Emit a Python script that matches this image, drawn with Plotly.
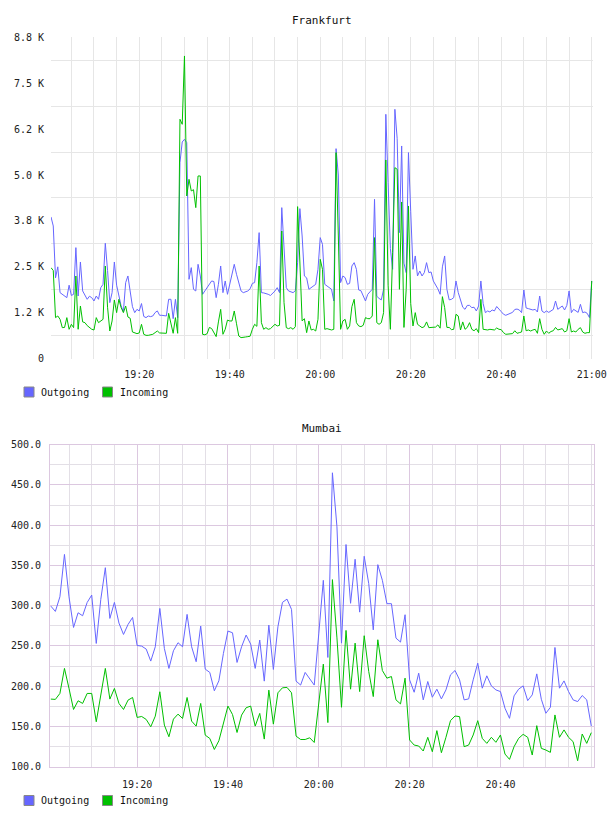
import pandas as pd
import plotly.graph_objects as go

W, H = 608, 816

# ---------------- data ----------------
fra_out = [
    3858, 3613, 2200, 2500, 1797, 1752, 1725, 1661, 2000, 1720,
    1752, 3023, 1706, 2632, 1843, 1725, 1616, 1700, 1661, 1570,
    1706, 1616, 1933, 2024, 3141, 2400, 1525, 1797, 2632, 2000,
    1661, 1434, 1280, 2070, 2251, 1752, 1416, 1253, 1343, 1298,
    1500, 1150, 1117, 1162, 1144, 1162, 1253, 1300, 1180, 1180,
    1180, 1162, 1616, 1616, 1089, 1616, 1117, 5337, 5900, 5973,
    5882, 2160, 2478, 1888, 1843, 2569, 2251, 1752, 1843, 1933,
    2024, 2115, 2100, 1661, 2024, 2523, 1797, 2115, 1752, 2024,
    2387, 2569, 2297, 2070, 1843, 1797, 1815, 1843, 1900, 2050,
    2070, 2614, 3431, 1797, 1790, 1780, 1752, 1720, 1780, 1843,
    1933, 1797, 4112, 3000, 1933, 1843, 1820, 1797, 1850, 2614,
    4085, 3340, 2251, 2200, 1888, 1933, 1980, 2024, 2433, 3295,
    3113, 2024, 1979, 1933, 1888, 1570, 5718, 5000, 2070, 2251,
    2206, 2024, 2050, 2523, 2614, 2433, 1870, 1850, 1700, 1570,
    1752, 1820, 1888, 4339, 1700, 1640, 1600, 1888, 6653, 4793,
    3000, 2433, 6789, 6000, 3431, 5791, 2600, 2342, 5610, 4000,
    2433, 2796, 2251, 2387, 2251, 2342, 2614, 2342, 2360, 2115,
    2024, 1900, 1752, 2500, 2796, 1888, 1600, 1616, 1661, 2115,
    1800, 1616, 1400, 1343, 1450, 1450, 1389, 1400, 1298, 1434,
    2115, 1500, 1253, 1298, 1271, 1325, 1300, 1420, 1360, 1280,
    1210, 1180, 1207, 1234, 1260, 1340, 1350, 1325, 1253, 1870,
    1380, 1362, 1343, 1325, 1343, 1270, 1706, 1298, 1253, 1298,
    1260, 1310, 1340, 1570, 1343, 1389, 1434, 1325, 1450, 1843,
    1253, 1343, 1300, 1260, 1480, 1253, 1271, 1234, 1117, 2115,
]
fra_in = [
    2478, 2400, 1117, 1162, 1071, 844, 850, 1117, 799, 935,
    844, 2251, 800, 1434, 1000, 980, 900, 850, 800, 780,
    1117, 980, 1026, 1071, 2523, 1400, 753, 1026, 1598, 1253,
    1616, 1389, 1253, 1434, 1135, 1100, 726, 708, 681, 700,
    935, 663, 635, 635, 640, 663, 708, 753, 700, 690,
    690, 690, 1234, 980, 690, 1117, 690, 6517, 6381, 8242,
    4430, 4883, 4566, 4600, 4112, 4974, 4974, 663, 650, 680,
    850, 820, 700, 600, 1000, 1343, 663, 800, 1050, 1026,
    1026, 1298, 950, 617, 572, 590, 590, 600, 610, 800,
    935, 880, 2523, 980, 800, 844, 799, 817, 890, 935,
    890, 908, 3476, 1525, 844, 817, 844, 799, 871, 4139,
    2632, 1026, 1089, 708, 1026, 780, 799, 753, 1071, 2705,
    2433, 799, 817, 799, 781, 799, 5610, 3340, 799, 1026,
    1071, 799, 890, 1416, 1616, 980, 890, 871, 908, 1117,
    1089, 1089, 1162, 3295, 980, 935, 980, 1253, 5410, 2000,
    799, 2886, 5201, 5156, 1888, 4266, 850, 1888, 4157, 1500,
    890, 1253, 935, 890, 844, 871, 1000, 844, 844, 860,
    860, 920, 830, 1688, 1389, 850, 850, 790, 799, 1207,
    1162, 780, 1000, 799, 850, 980, 799, 760, 817, 708,
    1616, 799, 781, 781, 799, 799, 781, 835, 799, 790,
    708, 663, 663, 663, 681, 760, 690, 708, 726, 1162,
    760, 781, 753, 781, 799, 690, 1089, 799, 663, 753,
    690, 740, 760, 850, 781, 799, 817, 726, 760, 1089,
    726, 753, 726, 799, 844, 726, 690, 708, 708, 2115,
]
mum_out = [
    299.5, 292.9, 311.1, 363.7, 311.0, 273.0, 291.2, 287.5, 304.0, 313.2,
    253.1, 307.8, 347.2, 284.2, 304.1, 278.4, 264.3, 276.7, 285.4, 250.6,
    249.8, 246.1, 231.2, 249.0, 296.6, 246.9, 222.1, 244.0, 254.0, 249.0,
    289.2, 249.0, 230.4, 274.7, 221.2, 217.1, 194.3, 206.7, 240.7, 268.5,
    266.4, 229.5, 249.0, 263.5, 252.3, 222.1, 257.3, 206.3, 275.9, 220.8,
    273.8, 304.1, 308.2, 295.4, 206.3, 201.4, 217.1, 209.7, 201.4, 265.0,
    331.5, 235.7, 465.1, 398.0, 253.5, 376.0, 303.0, 357.7, 292.0, 361.4,
    327.4, 270.0, 351.0, 331.5, 302.5, 302.5, 259.7, 254.8, 288.8, 207.9,
    192.5, 216.2, 183.0, 205.8, 186.3, 196.3, 184.2, 195.4, 214.1, 219.5,
    207.9, 183.0, 184.2, 207.9, 228.6, 197.5, 212.9, 200.4, 195.4, 193.3,
    172.6, 160.1, 188.0, 196.3, 200.4, 182.1, 189.2, 215.3, 183.8, 166.4,
    173.8, 248.1, 197.5, 206.6, 193.3, 183.0, 180.9, 188.4, 183.0, 150.6,
]
mum_in = [
    184.0, 183.6, 191.0, 222.1, 197.2, 171.1, 181.9, 178.6, 191.0, 191.0,
    155.8, 191.0, 222.1, 184.0, 197.2, 178.6, 171.1, 182.7, 186.0, 161.2,
    162.4, 158.7, 149.6, 162.8, 193.1, 151.7, 137.2, 159.1, 165.3, 159.9,
    186.0, 156.6, 150.4, 178.6, 139.2, 135.1, 121.4, 132.2, 154.6, 175.3,
    164.9, 142.5, 164.1, 173.2, 175.3, 150.4, 166.2, 134.3, 195.1, 152.9,
    191.8, 198.0, 198.5, 191.8, 138.0, 133.8, 133.8, 135.9, 130.1, 180.0,
    227.4, 154.8, 332.4, 260.0, 173.8, 269.3, 196.3, 253.5, 193.3, 262.7,
    218.2, 187.1, 257.7, 219.5, 210.0, 212.0, 183.0, 178.0, 210.0, 133.2,
    126.9, 125.7, 119.5, 136.5, 118.6, 144.8, 117.4, 136.5, 157.2, 163.0,
    162.2, 124.9, 126.9, 139.4, 157.2, 135.2, 129.0, 136.5, 130.3, 139.4,
    115.7, 109.1, 124.9, 135.2, 140.2, 136.5, 114.5, 151.0, 122.8, 120.7,
    117.8, 164.3, 136.5, 145.7, 136.5, 131.1, 107.4, 140.6, 129.0, 142.3,
]

series_names = ["Outgoing", "Incoming"]
titles = ["Frankfurt", "Mumbai"]
fra_yticks = [0, 1250, 2500, 3750, 5000, 6250, 7500, 8750]
fra_ylabels = ["0", "1.2 K", "2.5 K", "3.8 K", "5.0 K", "6.2 K", "7.5 K", "8.8 K"]
mum_yticks = [100, 150, 200, 250, 300, 350, 400, 450, 500]
mum_ylabels = ["100.0", "150.0", "200.0", "250.0", "300.0", "350.0", "400.0", "450.0", "500.0"]
mum_xticks = ["19:20", "19:40", "20:00", "20:20", "20:40"]

DAY = "2024-05-14 "
fra_times = pd.date_range(DAY + "19:00:30", periods=len(fra_out), freq="30s")
mum_times = pd.date_range(DAY + "19:01:00", periods=len(mum_out), freq="60s")

# ---------------- style ----------------
C_OUT = "#6666ff"
C_IN = "#00c000"
TOP_GRID = "#e6e6e6"
MAJ_GRID = "#dcc8e0"
MIN_GRID = "#e3dfe6"
MONO = "DejaVu Sans Mono"
TXT = "#222222"


def px_x(x):
    return x / W


def px_y(y):
    return 1 - y / H


fig = go.Figure()
fig.add_trace(go.Scatter(x=fra_times, y=fra_out, mode="lines", name=series_names[0],
                         line=dict(color=C_OUT, width=1), xaxis="x", yaxis="y", showlegend=False))
fig.add_trace(go.Scatter(x=fra_times, y=fra_in, mode="lines", name=series_names[1],
                         line=dict(color=C_IN, width=1), xaxis="x", yaxis="y", showlegend=False))
fig.add_trace(go.Scatter(x=mum_times, y=mum_out, mode="lines", name=series_names[0],
                         line=dict(color=C_OUT, width=1), xaxis="x2", yaxis="y2", showlegend=False))
fig.add_trace(go.Scatter(x=mum_times, y=mum_in, mode="lines", name=series_names[1],
                         line=dict(color=C_IN, width=1), xaxis="x2", yaxis="y2", showlegend=False))

tickfont = dict(family=MONO, size=10, color=TXT)

fig.update_layout(
    width=W, height=H,
    margin=dict(l=0, r=0, t=0, b=0),
    paper_bgcolor="white", plot_bgcolor="white",
    showlegend=False,
    xaxis=dict(
        domain=[px_x(51), px_x(593)], anchor="y", type="date", automargin=False,
        range=[DAY + "19:00:30", DAY + "21:00:17"],
        tick0=DAY + "19:00", dtick=20 * 60 * 1000, tickformat="%H:%M",
        showgrid=True, gridcolor=TOP_GRID, gridwidth=1,
        minor=dict(tick0=DAY + "19:00", dtick=5 * 60 * 1000, showgrid=True,
                   gridcolor=TOP_GRID, gridwidth=1),
        ticks="", showline=False, zeroline=False, tickfont=tickfont,
        ticklabelstandoff=8,
    ),
    yaxis=dict(
        domain=[px_y(358.65), px_y(37.3)], anchor="x", automargin=False,
        range=[0, 8750], tickmode="array", tickvals=fra_yticks, ticktext=fra_ylabels,
        showgrid=False,
        minor=dict(tickmode="linear", tick0=625, dtick=1250, showgrid=True,
                   gridcolor=TOP_GRID, gridwidth=1),
        ticks="", showline=False, zeroline=False, tickfont=tickfont,
        ticklabelstandoff=6,
    ),
    xaxis2=dict(
        domain=[px_x(50), px_x(594)], anchor="y2", type="date", automargin=False,
        range=[DAY + "19:00:49", DAY + "21:00:36"],
        tickmode="array", tickvals=[DAY + t for t in mum_xticks], ticktext=mum_xticks,
        showgrid=True, gridcolor=MAJ_GRID, gridwidth=1,
        minor=dict(tickmode="linear", tick0=DAY + "19:00", dtick=5 * 60 * 1000,
                   showgrid=True, gridcolor=MIN_GRID, gridwidth=1),
        ticks="", showline=True, mirror=True, linecolor=MAJ_GRID, linewidth=1,
        zeroline=False, tickfont=tickfont, ticklabelstandoff=8,
    ),
    yaxis2=dict(
        domain=[px_y(766.7), px_y(444.7)], anchor="x2", automargin=False,
        range=[100, 500], tickmode="array", tickvals=mum_yticks, ticktext=mum_ylabels,
        showgrid=True, gridcolor=MAJ_GRID, gridwidth=1,
        minor=dict(tickmode="linear", tick0=125, dtick=50, showgrid=True,
                   gridcolor=MIN_GRID, gridwidth=1),
        ticks="", showline=True, mirror=True, linecolor=MAJ_GRID, linewidth=1,
        zeroline=False, tickfont=tickfont, ticklabelstandoff=6,
    ),
)

# titles
for title, ty in zip(titles, [20, 428.5]):
    fig.add_annotation(text=title, x=0.5 * (px_x(51) + px_x(593)), y=px_y(ty),
                       xref="paper", yref="paper", showarrow=False,
                       xanchor="center", yanchor="middle",
                       font=dict(family=MONO, size=11, color="#111111"))

# legends (one under each chart)
for ly in [392, 800.5]:
    for name, color, sx in zip(series_names, [C_OUT, C_IN], [24, 102.5]):
        fig.add_shape(type="rect", xref="paper", yref="paper",
                      x0=px_x(sx), x1=px_x(sx + 10), y0=px_y(ly + 5), y1=px_y(ly - 5),
                      fillcolor=color, line=dict(color="#888888", width=1))
        fig.add_annotation(text=name, x=px_x(sx + 15), y=px_y(ly), xref="paper", yref="paper",
                           showarrow=False, xanchor="left", yanchor="middle",
                           font=dict(family=MONO, size=10, color="#111111"))

fig.write_html("out.html")
